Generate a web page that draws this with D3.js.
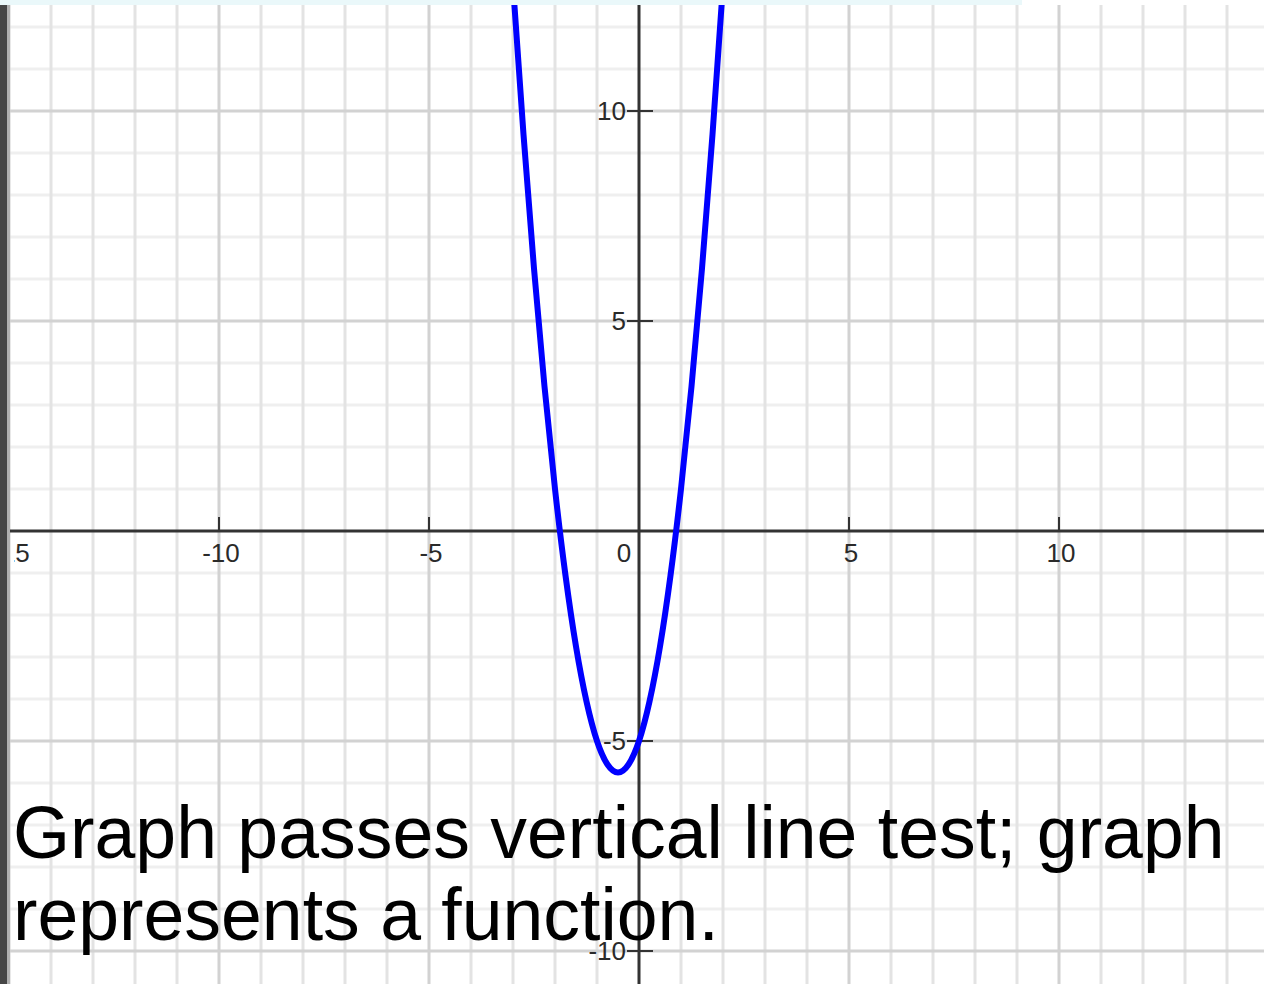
<!DOCTYPE html>
<html>
<head>
<meta charset="utf-8">
<script src="https://cdn.jsdelivr.net/npm/d3@7"></script>
<style>
  html, body { margin: 0; padding: 0; background: #ffffff; }
  svg { display: block; }
</style>
</head>
<body>
<svg id="chart" width="1264" height="984"></svg>
<script>
// Points on the plotted curve (x, y)
const curveX = [-3, -2.75, -2.5, -2.25, -2, -1.75, -1.5, -1.25, -1, -0.75, -0.5,
                -0.25, 0, 0.25, 0.5, 0.75, 1, 1.25, 1.5, 1.75, 2];
const curveY = [13, 9.44, 6.25, 3.44, 1, -1.06, -2.75, -4.06, -5, -5.56, -5.75,
                -5.56, -5, -4.06, -2.75, -1.06, 1, 3.44, 6.25, 9.44, 13];

// Axis tick values and their labels
const xTicks = [-15, -10, -5, 5, 10];
const xTickLabels = ["-15", "-10", "-5", "5", "10"];
const yTicks = [10, 5, -5, -10];
const yTickLabels = ["10", "5", "-5", "-10"];
const originLabel = "0";

// Caption lines
const captionLines = ["Graph passes vertical line test; graph", "represents a function."];

const W = 1264, H = 984;
const svg = d3.select("#chart");

const x = d3.scaleLinear().domain([-15, 15]).range([9, 1269]);
const y = d3.scaleLinear().domain([-10, 10]).range([951, 111]);

const plotLeft = x(-15), plotTop = 5;

// clip for plot area
svg.append("defs").append("clipPath").attr("id", "plotClip")
  .append("rect").attr("x", plotLeft + 1).attr("y", plotTop)
  .attr("width", W - plotLeft).attr("height", H - plotTop);
svg.select("defs").append("clipPath").attr("id", "labelClip")
  .append("rect").attr("x", plotLeft + 5).attr("y", plotTop)
  .attr("width", W - plotLeft).attr("height", H - plotTop);

const plot = svg.append("g").attr("clip-path", "url(#plotClip)");

// grid: unit lines, heavier every 5 units
const gx = d3.range(-15, 16);
const gy = d3.range(-11, 13);

plot.append("g").selectAll("line").data(gy.filter(v => v % 5 !== 0)).join("line")
  .attr("x1", plotLeft).attr("x2", W)
  .attr("y1", d => y(d)).attr("y2", d => y(d))
  .attr("stroke", "#efefef").attr("stroke-width", 3);

plot.append("g").selectAll("line").data(gx.filter(v => v % 5 !== 0)).join("line")
  .attr("x1", d => x(d)).attr("x2", d => x(d))
  .attr("y1", plotTop).attr("y2", H)
  .attr("stroke", "#e3e3e3").attr("stroke-width", 3);

plot.append("g").selectAll("line").data(gy.filter(v => v % 5 === 0 && v !== 0)).join("line")
  .attr("x1", plotLeft).attr("x2", W)
  .attr("y1", d => y(d)).attr("y2", d => y(d))
  .attr("stroke", "#d2d2d2").attr("stroke-width", 3);

plot.append("g").selectAll("line").data(gx.filter(v => v % 5 === 0 && v !== 0)).join("line")
  .attr("x1", d => x(d)).attr("x2", d => x(d))
  .attr("y1", plotTop).attr("y2", H)
  .attr("stroke", "#d2d2d2").attr("stroke-width", 3);

// axes
const axisColor = "#333333";
plot.append("line")
  .attr("x1", plotLeft).attr("x2", W).attr("y1", y(0)).attr("y2", y(0))
  .attr("stroke", axisColor).attr("stroke-width", 3);
plot.append("line")
  .attr("x1", x(0)).attr("x2", x(0)).attr("y1", plotTop).attr("y2", H)
  .attr("stroke", axisColor).attr("stroke-width", 3);

// x ticks and labels
plot.append("g").selectAll("line").data(xTicks).join("line")
  .attr("x1", d => x(d)).attr("x2", d => x(d))
  .attr("y1", y(0) - 14).attr("y2", y(0))
  .attr("stroke", axisColor).attr("stroke-width", 2);

const labelFont = "'Liberation Sans', Arial, sans-serif";
svg.append("g").attr("clip-path", "url(#labelClip)")
  .selectAll("text").data(xTicks).join("text")
  .attr("x", d => x(d) + 2).attr("y", y(0) + 22)
  .attr("text-anchor", "middle").attr("dominant-baseline", "central")
  .attr("font-family", labelFont).attr("font-size", 26)
  .attr("fill", "#2a2a2a")
  .text((d, i) => xTickLabels[i]);

// y ticks and labels
plot.append("g").selectAll("line").data(yTicks).join("line")
  .attr("x1", x(0) - 12).attr("x2", x(0) + 14)
  .attr("y1", d => y(d)).attr("y2", d => y(d))
  .attr("stroke", axisColor).attr("stroke-width", 2);

plot.append("g").selectAll("text").data(yTicks).join("text")
  .attr("x", x(0) - 13).attr("y", d => y(d))
  .attr("text-anchor", "end").attr("dominant-baseline", "central")
  .attr("font-family", labelFont).attr("font-size", 26)
  .attr("fill", "#2a2a2a")
  .text((d, i) => yTickLabels[i]);

plot.append("text")
  .attr("x", x(0) - 15).attr("y", y(0) + 22)
  .attr("text-anchor", "middle").attr("dominant-baseline", "central")
  .attr("font-family", labelFont).attr("font-size", 26)
  .attr("fill", "#2a2a2a")
  .text(originLabel);

// the curve
const pts = curveX.map((v, i) => [v, curveY[i]]);
const line = d3.line().x(d => x(d[0])).y(d => y(d[1])).curve(d3.curveNatural);
plot.append("path").datum(pts)
  .attr("d", line)
  .attr("fill", "none").attr("stroke", "#0000ff")
  .attr("stroke-width", 6).attr("stroke-linejoin", "round");

// caption
svg.append("g").selectAll("text").data(captionLines).join("text")
  .attr("x", 13).attr("y", (d, i) => 858 + i * 82)
  .attr("font-family", labelFont).attr("font-size", 73.4)
  .attr("fill", "#000000")
  .text(d => d);

// window frame: left edge bar and top strip
svg.append("rect").attr("x", 0).attr("y", 0).attr("width", 1022).attr("height", 5)
  .attr("fill", "#eaf8fa");
svg.append("rect").attr("x", 0).attr("y", 5).attr("width", 7).attr("height", H - 5)
  .attr("fill", "#464646");
svg.append("rect").attr("x", 7).attr("y", 5).attr("width", 3).attr("height", H - 5)
  .attr("fill", "#b0b0b0");
</script>
</body>
</html>
